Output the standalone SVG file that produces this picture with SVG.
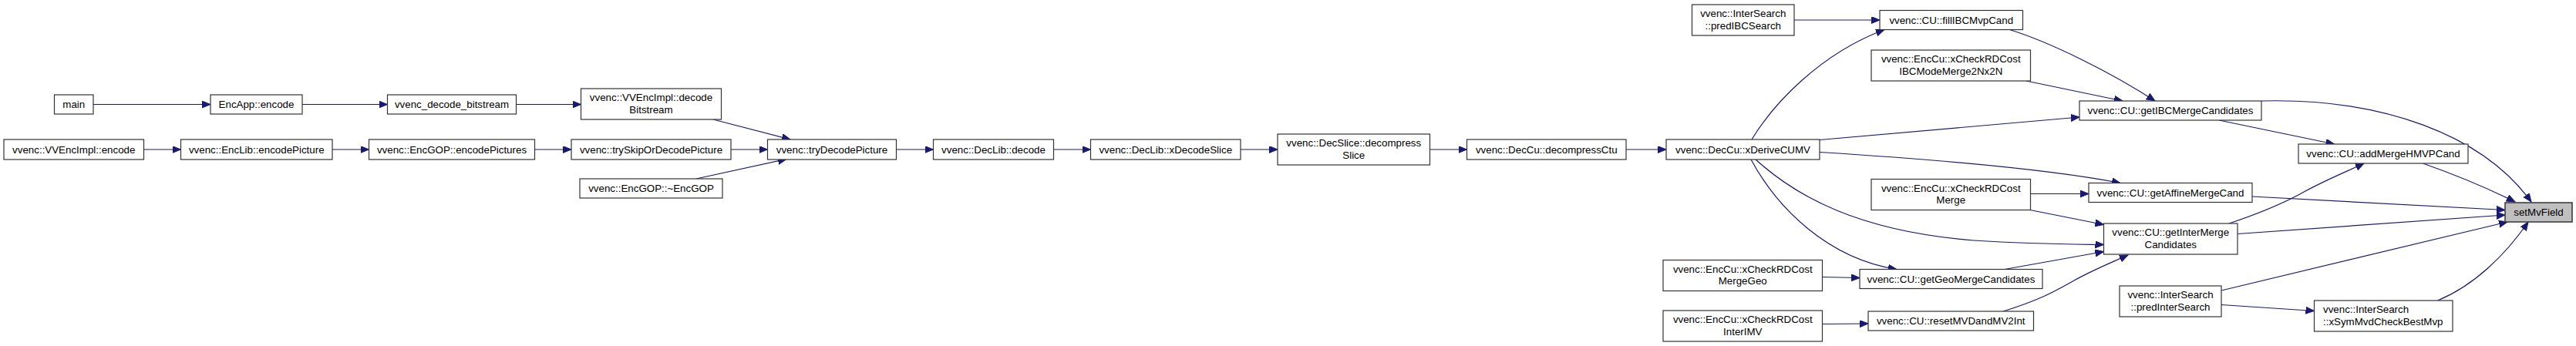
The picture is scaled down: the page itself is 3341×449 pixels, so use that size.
<svg xmlns="http://www.w3.org/2000/svg" width="3341" height="449" viewBox="0 0 3341 449">
<style>
.n rect{fill:#ffffff;stroke:#333333;stroke-width:1.2}
.hl rect{fill:#bfbfbf;stroke:#333333;stroke-width:1.5}
text{font-family:"Liberation Sans",Arial,sans-serif;font-size:13.33px;fill:#000000;text-anchor:middle}
.e path{fill:none;stroke:#191970;stroke-width:1.2;marker-end:url(#ah)}
</style>
<defs>
<marker id="ah" markerUnits="userSpaceOnUse" markerWidth="12" markerHeight="10" refX="11" refY="4.5" orient="auto" viewBox="0 0 12 10">
<path d="M0,0 L11,4.5 L0,9 z" fill="#191970" stroke="#191970" stroke-width="1"/>
</marker>
</defs>
<rect x="0" y="0" width="3341" height="449" fill="#ffffff"/>
<g class="e" id="edges">
<path d="M121,135.5 L273,135.5"/>
<path d="M392,135.5 L502.5,135.5"/>
<path d="M669.5,135.5 L753.5,135.5"/>
<path d="M186.5,194 L234.5,194"/>
<path d="M431,194 L478.5,194"/>
<path d="M693.5,194 L741,194"/>
<path d="M925,155 L1025,181"/>
<path d="M948,194 L995.5,194"/>
<path d="M903,232 L1020,206.5"/>
<path d="M1162.5,194 L1210.5,194"/>
<path d="M1366.5,194 L1414.5,194"/>
<path d="M1609,194 L1657,194"/>
<path d="M1854.5,194 L1902.5,194"/>
<path d="M2109,194 L2161,194"/>
<path d="M2272,181 C2300,135 2360,70 2444,38.5"/>
<path d="M2327,26 L2438,26"/>
<path d="M2606.5,38.5 C2660,55 2740,95 2795,131"/>
<path d="M2628,105 L2753,131"/>
<path d="M2360,181.5 L2697,152"/>
<path d="M2360,197.5 C2480,205 2650,218 2750,237.5"/>
<path d="M2277,207 C2330,255 2410,300 2560,312 C2640,317 2700,317 2728.5,317.5"/>
<path d="M2271,207 C2305,270 2370,335 2460,349.5"/>
<path d="M2633.5,251.5 L2709,251.5"/>
<path d="M2633,272.5 L2728.5,291.5"/>
<path d="M2600,349.5 L2728.5,326.5"/>
<path d="M2598,404 C2650,388 2670,375 2690,364 C2715,350 2740,340 2760,331"/>
<path d="M2363.5,359.5 L2412,360.5"/>
<path d="M2363.5,420.5 L2423,420"/>
<path d="M2933,131 C3090,127 3220,175 3283,262"/>
<path d="M2878,156 L3027.5,187"/>
<path d="M3142.5,212 C3185,227 3228,245 3262,262"/>
<path d="M2921,255 L3249,272.5"/>
<path d="M2891,290 C2930,277 2960,265 2990,248 C3020,232 3045,222 3066,212"/>
<path d="M2902,303.5 L3249,279"/>
<path d="M2881,377 L3252,288"/>
<path d="M2881,395.5 L3001.5,403.5"/>
<path d="M3161.5,390 C3210,370 3250,330 3279,288"/>
</g>
<g class="n" id="node_main"><rect x="70.5" y="123" width="50.5" height="25"/><text x="95.75" y="140">main</text></g>
<g class="n" id="node_encapp_encode"><rect x="273" y="123" width="119" height="25"/><text x="332.5" y="140">EncApp::encode</text></g>
<g class="n" id="node_vvenc_decode_bitstream"><rect x="502.5" y="123" width="167" height="25"/><text x="586" y="140">vvenc_decode_bitstream</text></g>
<g class="n" id="node_vvencimpl_encode"><rect x="5" y="181" width="181.5" height="26"/><text x="95.75" y="198.5">vvenc::VVEncImpl::encode</text></g>
<g class="n" id="node_enclib_encodepicture"><rect x="234.5" y="181" width="196.5" height="26"/><text x="332.75" y="198.5">vvenc::EncLib::encodePicture</text></g>
<g class="n" id="node_encgop_encodepictures"><rect x="478.5" y="181" width="215" height="26"/><text x="586" y="198.5">vvenc::EncGOP::encodePictures</text></g>
<g class="n" id="node_vvencimpl_decodebitstream"><rect x="753.5" y="115" width="182" height="40"/><text x="844.5" y="131">vvenc::VVEncImpl::decode</text><text x="844.5" y="146.5">Bitstream</text></g>
<g class="n" id="node_tryskipordecodepicture"><rect x="741" y="181" width="207" height="26"/><text x="844.5" y="198.5">vvenc::trySkipOrDecodePicture</text></g>
<g class="n" id="node_encgop_dtor"><rect x="752" y="232" width="185" height="25"/><text x="844.5" y="249">vvenc::EncGOP::~EncGOP</text></g>
<g class="n" id="node_trydecodepicture"><rect x="995.5" y="181" width="167" height="26"/><text x="1079" y="198.5">vvenc::tryDecodePicture</text></g>
<g class="n" id="node_declib_decode"><rect x="1210.5" y="181" width="156" height="26"/><text x="1288.5" y="198.5">vvenc::DecLib::decode</text></g>
<g class="n" id="node_declib_xdecodeslice"><rect x="1414.5" y="181" width="194.5" height="26"/><text x="1511.75" y="198.5">vvenc::DecLib::xDecodeSlice</text></g>
<g class="n" id="node_decslice_decompressslice"><rect x="1657" y="174" width="197.5" height="40"/><text x="1755.75" y="190">vvenc::DecSlice::decompress</text><text x="1755.75" y="205.5">Slice</text></g>
<g class="n" id="node_deccu_decompressctu"><rect x="1902.5" y="181" width="206.5" height="26"/><text x="2005.75" y="198.5">vvenc::DecCu::decompressCtu</text></g>
<g class="n" id="node_deccu_xderivecumv"><rect x="2161" y="181" width="199" height="26"/><text x="2260.5" y="198.5">vvenc::DecCu::xDeriveCUMV</text></g>
<g class="n" id="node_intersearch_predibcsearch"><rect x="2194.5" y="6" width="132.5" height="40"/><text x="2260.75" y="22">vvenc::InterSearch</text><text x="2260.75" y="37.5">::predIBCSearch</text></g>
<g class="n" id="node_cu_fillibcmvpcand"><rect x="2438" y="13.5" width="185.5" height="25"/><text x="2530.75" y="30.5">vvenc::CU::fillIBCMvpCand</text></g>
<g class="n" id="node_enccu_ibcmodemerge"><rect x="2427" y="65" width="206.5" height="40"/><text x="2530.25" y="81">vvenc::EncCu::xCheckRDCost</text><text x="2530.25" y="96.5">IBCModeMerge2Nx2N</text></g>
<g class="n" id="node_cu_getibcmergecandidates"><rect x="2697" y="131" width="236" height="25"/><text x="2815" y="148">vvenc::CU::getIBCMergeCandidates</text></g>
<g class="n" id="node_cu_addmergehmvpcand"><rect x="2981" y="187" width="220" height="25"/><text x="3091" y="204">vvenc::CU::addMergeHMVPCand</text></g>
<g class="n" id="node_enccu_xcheckrdcostmerge"><rect x="2427" y="232.5" width="206.5" height="40"/><text x="2530.25" y="248.5">vvenc::EncCu::xCheckRDCost</text><text x="2530.25" y="264">Merge</text></g>
<g class="n" id="node_cu_getaffinemergecand"><rect x="2709" y="237.5" width="212" height="25"/><text x="2815" y="254.5">vvenc::CU::getAffineMergeCand</text></g>
<g class="n" id="node_cu_getintermergecandidates"><rect x="2728.5" y="290" width="173.5" height="40"/><text x="2815.25" y="306">vvenc::CU::getInterMerge</text><text x="2815.25" y="321.5">Candidates</text></g>
<g class="n" id="node_enccu_mergegeo"><rect x="2157" y="337.5" width="206.5" height="40"/><text x="2260.25" y="353.5">vvenc::EncCu::xCheckRDCost</text><text x="2260.25" y="369">MergeGeo</text></g>
<g class="n" id="node_cu_getgeomergecandidates"><rect x="2412" y="349.5" width="237" height="25"/><text x="2530.5" y="366.5">vvenc::CU::getGeoMergeCandidates</text></g>
<g class="n" id="node_enccu_interimv"><rect x="2157" y="403" width="206.5" height="40"/><text x="2260.25" y="419">vvenc::EncCu::xCheckRDCost</text><text x="2260.25" y="434.5">InterIMV</text></g>
<g class="n" id="node_cu_resetmvdandmv2int"><rect x="2423" y="404" width="214.5" height="25"/><text x="2530.25" y="421">vvenc::CU::resetMVDandMV2Int</text></g>
<g class="n" id="node_intersearch_predintersearch"><rect x="2749" y="371" width="132" height="40"/><text x="2815" y="387">vvenc::InterSearch</text><text x="2815" y="402.5">::predInterSearch</text></g>
<g class="n" id="node_intersearch_xsymmvdcheckbestmvp"><rect x="3001.5" y="390" width="179.5" height="40"/><text x="3013" y="406" style="text-anchor:start">vvenc::InterSearch</text><text x="3013" y="421.5" style="text-anchor:start">::xSymMvdCheckBestMvp</text></g>
<g class="hl" id="node_setmvfield"><rect x="3249" y="263" width="87" height="25"/><text x="3292.5" y="280">setMvField</text></g>
</svg>
